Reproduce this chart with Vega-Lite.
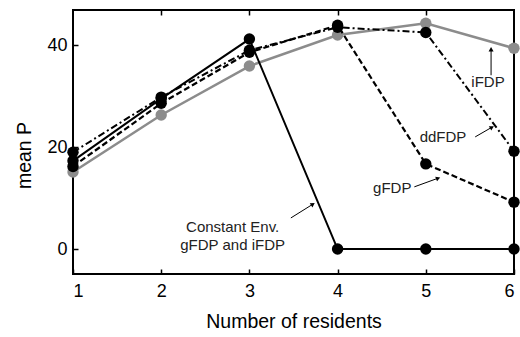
{
  "$schema": "https://vega.github.io/schema/vega-lite/v6.json",
  "width": 441,
  "height": 264,
  "autosize": "none",
  "padding": {"left": 73, "top": 10, "right": 6, "bottom": 63},
  "config": {
    "view": {"stroke": "black", "strokeWidth": 2},
    "font": "Liberation Sans",
    "axis": {"grid": false, "domain": false, "tickColor": "black", "tickWidth": 1.5, "tickSize": -5, "labelFont": "Liberation Sans", "titleFont": "Liberation Sans", "labelFontSize": 18, "titleFontSize": 19.5, "labelColor": "black", "titleColor": "black", "titleFontWeight": "normal"}
  },
  "datasets": {
    "series": [
      {"n": 1, "v": 15.1, "s": "iFDP"}, {"n": 2, "v": 26.3, "s": "iFDP"}, {"n": 3, "v": 35.9, "s": "iFDP"}, {"n": 4, "v": 42.0, "s": "iFDP"}, {"n": 5, "v": 44.3, "s": "iFDP"}, {"n": 6, "v": 39.4, "s": "iFDP"},
      {"n": 1, "v": 19.0, "s": "ddFDP"}, {"n": 2, "v": 29.8, "s": "ddFDP"}, {"n": 3, "v": 39.0, "s": "ddFDP"}, {"n": 4, "v": 43.5, "s": "ddFDP"}, {"n": 5, "v": 42.5, "s": "ddFDP"}, {"n": 6, "v": 19.2, "s": "ddFDP"},
      {"n": 1, "v": 16.2, "s": "gFDP"}, {"n": 2, "v": 28.6, "s": "gFDP"}, {"n": 3, "v": 38.6, "s": "gFDP"}, {"n": 4, "v": 43.9, "s": "gFDP"}, {"n": 5, "v": 16.7, "s": "gFDP"}, {"n": 6, "v": 9.2, "s": "gFDP"},
      {"n": 1, "v": 17.3, "s": "Constant"}, {"n": 2, "v": 29.5, "s": "Constant"}, {"n": 3, "v": 41.2, "s": "Constant"}, {"n": 4, "v": 0, "s": "Constant"}, {"n": 5, "v": 0, "s": "Constant"}, {"n": 6, "v": 0, "s": "Constant"}
    ],
    "labels": [
      {"x": 5.705, "y": 32.7, "t": "iFDP"},
      {"x": 5.195, "y": 22.0, "t": "ddFDP"},
      {"x": 4.62, "y": 12.0, "t": "gFDP"},
      {"x": 2.81, "y": 4.3, "t": "Constant Env."},
      {"x": 2.81, "y": 0.8, "t": "gFDP and iFDP"}
    ],
    "arrows": [
      {"x": 5.74, "y": 34.1, "x2": 5.74, "y2": 39.2, "a": 0},
      {"x": 5.56, "y": 22.0, "x2": 5.75, "y2": 23.9, "a": 60},
      {"x": 4.87, "y": 12.2, "x2": 5.14, "y2": 13.9, "a": 69},
      {"x": 3.47, "y": 6.1, "x2": 3.72, "y2": 8.8, "a": 57}
    ]
  },
  "layer": [
    {
      "data": {"name": "series"},
      "transform": [{"filter": "datum.s === 'iFDP'"}],
      "mark": {"type": "line", "color": "#8c8c8c", "strokeWidth": 2.5, "clip": false},
      "encoding": {
        "x": {"field": "n", "type": "quantitative", "scale": {"domain": [1, 6]}, "axis": {"orient": "bottom", "values": [1, 2, 3, 4, 5, 6], "title": "Number of residents", "labelPadding": 13, "titlePadding": 12}},
        "y": {"field": "v", "type": "quantitative", "scale": {"domain": [-4.9, 46.9], "nice": false, "zero": false}, "axis": {"orient": "left", "values": [0, 20, 40], "title": "mean P", "labelPadding": 11, "titlePadding": 12, "titleY": 145}}
      }
    },
    {
      "data": {"name": "series"},
      "transform": [{"filter": "datum.s === 'iFDP'"}],
      "mark": {"type": "point", "shape": "circle", "filled": true, "opacity": 1, "color": "#8c8c8c", "size": 130, "clip": false},
      "encoding": {
        "x": {"field": "n", "type": "quantitative", "axis": {"orient": "top", "values": [2, 3, 4, 5], "labels": false, "title": null}},
        "y": {"field": "v", "type": "quantitative", "axis": {"orient": "right", "values": [0, 20, 40], "labels": false, "title": null}}
      }
    },
    {
      "data": {"name": "series"},
      "transform": [{"filter": "datum.s === 'ddFDP'"}],
      "mark": {"type": "line", "color": "black", "strokeWidth": 2, "strokeDash": [7, 3, 2, 3], "clip": false},
      "encoding": {"x": {"field": "n", "type": "quantitative", "axis": null}, "y": {"field": "v", "type": "quantitative", "axis": null}}
    },
    {
      "data": {"name": "series"},
      "transform": [{"filter": "datum.s === 'gFDP'"}],
      "mark": {"type": "line", "color": "black", "strokeWidth": 2.2, "strokeDash": [6, 3], "clip": false},
      "encoding": {"x": {"field": "n", "type": "quantitative", "axis": null}, "y": {"field": "v", "type": "quantitative", "axis": null}}
    },
    {
      "data": {"name": "series"},
      "transform": [{"filter": "datum.s === 'Constant'"}],
      "mark": {"type": "line", "color": "black", "strokeWidth": 2, "clip": false},
      "encoding": {"x": {"field": "n", "type": "quantitative", "axis": null}, "y": {"field": "v", "type": "quantitative", "axis": null}}
    },
    {
      "data": {"name": "series"},
      "transform": [{"filter": "datum.s !== 'iFDP'"}],
      "mark": {"type": "point", "shape": "circle", "filled": true, "opacity": 1, "color": "black", "size": 130, "clip": false},
      "encoding": {"x": {"field": "n", "type": "quantitative", "axis": null}, "y": {"field": "v", "type": "quantitative", "axis": null}}
    },
    {
      "data": {"name": "labels"},
      "mark": {"type": "text", "fontSize": 15, "color": "#222", "align": "center", "baseline": "middle", "font": "Liberation Sans"},
      "encoding": {"x": {"field": "x", "type": "quantitative", "axis": null}, "y": {"field": "y", "type": "quantitative", "axis": null}, "text": {"field": "t"}}
    },
    {
      "data": {"name": "arrows"},
      "mark": {"type": "rule", "color": "black", "strokeWidth": 1},
      "encoding": {"x": {"field": "x", "type": "quantitative", "axis": null}, "y": {"field": "y", "type": "quantitative", "axis": null}, "x2": {"field": "x2"}, "y2": {"field": "y2"}}
    },
    {
      "data": {"name": "arrows"},
      "mark": {"type": "point", "shape": "triangle-up", "filled": true, "opacity": 1, "color": "black", "size": 25},
      "encoding": {"x": {"field": "x2", "type": "quantitative", "axis": null}, "y": {"field": "y2", "type": "quantitative", "axis": null}, "angle": {"field": "a", "type": "quantitative", "scale": null}}
    }
  ]
}
